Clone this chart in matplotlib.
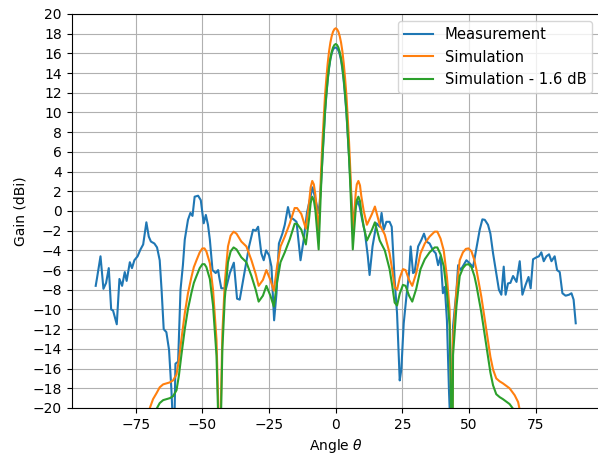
import numpy as np
import matplotlib
matplotlib.use("Agg")
import matplotlib.pyplot as plt

meas_angle = [
    -90.0, -89.5, -88.2, -87.1, -86.1, -85.1, -84.2, -83.5, -82.1, -81.1,
    -80.1, -79.1, -78.4, -77.2, -76.4, -75.5, -74.3, -73.2, -72.2, -71.0,
    -70.1, -69.3, -68.0, -67.0, -66.0, -65.3, -64.5, -63.5, -62.5, -61.6,
    -61.0, -60.5, -60.1, -59.1, -58.2, -57.3, -56.6, -55.4, -54.5, -53.7,
    -52.9, -51.6, -50.6, -49.5, -48.7, -47.9, -47.2, -46.2, -45.0, -44.1,
    -43.7, -42.9, -42.0, -41.2, -39.7, -38.2, -37.0, -36.0, -34.5, -32.5,
    -31.0, -30.0, -29.1, -27.9, -27.0, -26.1, -25.0, -24.1, -23.1, -22.2,
    -21.3, -20.0, -19.1, -17.9, -17.0, -16.0, -14.7, -13.2, -12.0, -10.8,
    -8.7, -7.5, -6.5, -6.0, -5.5, -5.0, -4.5, -4.0, -3.5, -3.0,
    -2.5, -2.0, -1.5, -1.0, -0.5, 0.0, 0.5, 1.0, 1.5, 2.0,
    2.5, 3.0, 3.5, 4.0, 5.0, 5.7, 6.5, 7.5,
    8.3, 9.0, 10.0, 10.9, 12.0, 12.7, 13.8, 15.3, 16.5, 17.2,
    18.0, 19.0, 20.2, 21.0, 22.1, 23.0, 24.0, 24.6, 25.5, 26.5,
    27.5, 28.1, 29.0, 29.6, 30.9, 32.1, 33.1, 34.0, 35.2, 36.5,
    37.5, 38.4, 39.3, 40.2, 40.9, 41.7, 42.5, 43.0, 43.4, 44.0,
    45.3, 45.9, 46.8, 47.7, 49.0, 50.2, 51.5, 52.1, 53.0, 54.0,
    55.0, 55.9, 57.1, 58.0, 59.0, 60.2, 61.2, 62.1, 63.0, 63.7,
    64.6, 65.5, 66.5, 67.8, 69.0, 70.0, 71.2, 72.3, 73.1, 74.0,
    75.3, 76.2, 77.1, 78.0, 79.0, 80.0, 80.9, 82.1, 83.0, 84.0,
    85.0, 86.2, 87.5, 88.4, 89.2, 90.0,
]
meas_gain = [
    -7.6, -6.8, -4.6, -7.9, -7.3, -5.8, -10.0, -10.1, -11.5, -6.9,
    -7.6, -6.2, -7.1, -5.2, -5.8, -5.0, -4.6, -3.9, -3.4, -1.15,
    -2.6, -3.1, -3.3, -3.7, -5.0, -8.0, -12.0, -12.3, -14.1, -18.2,
    -22.0, -22.0, -15.5, -15.3, -8.0, -5.5, -2.9, -0.9, -0.2, -0.5,
    1.45, 1.55, 1.1, -1.25, -0.4, -1.4, -2.9, -6.0, -6.3, -6.0,
    -6.7, -7.85, -7.85, -7.95, -6.3, -5.25, -8.9, -9.0, -6.7, -3.6,
    -1.9, -2.0, -1.6, -4.3, -5.0, -4.0, -4.5, -5.65, -11.1, -8.35,
    -3.3, -2.3, -1.4, 0.4, -0.7, -0.8, -1.1, -5.0, -2.9, -0.2,
    2.4, 1.1, -0.2, 0.8, 2.8, 5.2, 7.8, 10.0, 11.8, 13.3,
    14.5, 15.4, 16.0, 16.4, 16.55, 16.6, 16.5, 16.3, 15.9, 15.3,
    14.4, 13.2, 11.7, 10.0, 5.5, 2.0, -1.0, 0.5,
    1.0, 0.4, -1.0, -2.1, -4.5, -6.5, -3.6, -1.25, -1.6, -0.2,
    -1.9, -1.1, -1.1, -1.6, -7.0, -10.4, -17.2, -16.1, -11.4, -8.7,
    -6.3, -3.6, -6.3, -6.2, -3.6, -2.95, -2.3, -3.1, -3.3, -4.0,
    -4.3, -5.5, -4.6, -8.35, -7.7, -11.1, -18.5, -22.0, -22.0, -11.7,
    -8.0, -5.5, -6.0, -5.6, -5.0, -5.3, -5.7, -4.8, -3.45, -1.9,
    -0.85, -0.9, -1.4, -2.3, -4.3, -6.3, -8.0, -8.5, -5.65, -8.5,
    -7.35, -7.3, -6.6, -7.2, -5.1, -8.5, -7.5, -6.7, -7.85, -4.9,
    -4.7, -4.6, -4.2, -5.1, -4.6, -4.4, -5.1, -4.6, -6.0, -6.2,
    -8.35, -8.6, -8.5, -8.35, -9.0, -11.4,
]

# Simulated pattern
sim_angle = [
    -71.0, -69.7, -68.5, -67.2, -66.0, -64.7, -63.5, -62.2, -61.0, -59.7,
    -58.8, -57.9, -56.6, -55.4, -54.1, -53.2, -52.2, -51.0, -50.0, -49.2,
    -48.5, -47.2, -46.0, -44.7, -44.0, -43.5, -43.0, -42.5, -41.6, -40.4,
    -39.4, -38.3, -37.2, -35.4, -33.5, -31.6, -30.0, -28.9, -27.3, -26.0,
    -24.5, -23.2, -22.0, -20.7, -19.1, -17.2, -15.4, -14.5, -12.9, -11.2,
    -10.0, -9.4, -8.8, -8.2, -7.6, -6.4, -6.0, -5.5, -5.0, -4.5,
    -4.0, -3.5, -3.0, -2.5, -2.0, -1.5, -1.0, -0.5, 0.0, 0.5,
    1.0, 1.5, 2.0, 2.5, 3.0, 3.5, 4.0, 4.5, 5.0, 5.5,
    6.0, 6.4, 7.5, 7.9, 8.5, 9.1, 9.6, 10.5, 11.7, 13.6,
    14.7, 16.5, 18.4, 20.2, 21.2, 22.1, 23.0, 24.0, 25.2, 26.2,
    27.5, 28.7, 30.2, 31.8, 33.4, 35.2, 37.1, 38.1, 39.3, 40.5,
    41.7, 42.7, 43.2, 43.5, 44.0, 45.3, 46.5, 47.7, 48.8, 49.8,
    50.9, 52.0, 52.8, 54.6, 56.5, 58.0, 59.0, 60.2, 61.5, 62.7,
    65.2, 67.1, 68.4, 69.0, 70.5,
]
sim_gain = [
    -21.3, -20.0, -19.1, -18.5, -17.9, -17.6, -17.5, -17.4, -17.2, -16.6,
    -15.1, -13.1, -10.4, -8.35, -6.7, -5.7, -5.0, -4.2, -3.8, -3.8,
    -4.1, -5.3, -8.0, -13.1, -20.0, -35.0, -19.0, -12.4, -7.3, -3.6,
    -2.5, -2.1, -2.3, -3.1, -3.6, -5.0, -6.4, -7.6, -7.0, -6.0,
    -7.0, -8.1, -5.65, -3.6, -2.6, -1.25, 0.3, 0.3, -0.3, -1.8,
    0.8, 2.4, 3.05, 2.7, 1.6, -2.3, 0.5, 4.0, 7.0, 9.5,
    11.8, 13.5, 15.0, 16.2, 17.1, 17.75, 18.2, 18.45, 18.55, 18.45,
    18.2, 17.75, 17.1, 16.2, 15.0, 13.5, 11.8, 9.5, 7.0, 4.0,
    0.5, -2.3, 1.8, 2.7, 3.05, 2.6, 1.5, 0.0, -1.4, -0.3,
    0.45, -1.4, -2.4, -4.3, -6.0, -7.7, -8.0, -6.8, -5.9, -6.0,
    -7.0, -7.6, -6.3, -4.3, -3.3, -2.6, -2.1, -2.1, -2.8, -4.0,
    -6.7, -10.0, -17.0, -35.0, -13.0, -8.0, -5.0, -4.2, -3.85, -3.8,
    -4.1, -5.0, -6.0, -8.7, -12.1, -14.8, -16.1, -17.0, -17.3, -17.5,
    -18.0, -18.7, -19.4, -20.2, -21.5,
]
sim_offset = 1.6  # dB

fig = plt.figure(figsize=(5.98, 4.55), dpi=100)
ax = fig.add_axes([0.1199, 0.1033, 0.883, 0.866])

ax.plot(meas_angle, meas_gain, label='Measurement')
ax.plot(sim_angle, sim_gain, label='Simulation')
ax.plot(sim_angle, np.array(sim_gain) - sim_offset, label='Simulation - 1.6 dB')

ax.set_xlim(-99, 99)
ax.set_ylim(-20, 20)
ax.set_xticks([-75, -50, -25, 0, 25, 50, 75])
ax.set_yticks(np.arange(-20, 21, 2))
ax.grid(True)
ax.set_xlabel(r'Angle $\theta$')
ax.set_ylabel('Gain (dBi)')
ax.legend(loc='upper right', fontsize=10.6)

fig.savefig('out.png', dpi=100)
